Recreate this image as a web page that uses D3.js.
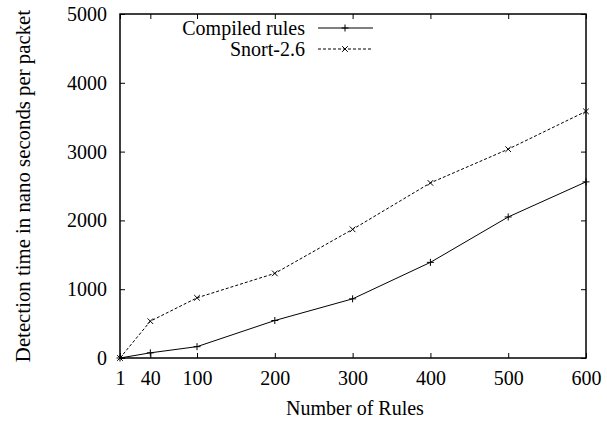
<!DOCTYPE html>
<html lang="en">
<head>
  <meta charset="UTF-8">
  <title>Detection time vs number of rules</title>
  <script src="https://d3js.org/d3.v7.min.js"></script>
  <style>
    body { margin: 0; background: #fff; }
    svg text { font-family: 'Liberation Serif', 'Times New Roman', serif; font-size: 20px; fill: #000; }
    .axis path { display: none; }
    .axis line { stroke: #000; stroke-width: 1; }
    .frame { fill: none; stroke: #000; stroke-width: 1.5; }
  </style>
</head>
<body>
  <div id="chart"></div>
  <script>
    // data
    const rules = [1, 40, 100, 200, 300, 400, 500, 600];
    const compiled = [0, 75, 165, 545, 860, 1390, 2050, 2560];
    const snort = [0, 535, 875, 1230, 1870, 2545, 3035, 3585];
    const xTicks = [1, 40, 100, 200, 300, 400, 500, 600];
    const yTicks = [0, 1000, 2000, 3000, 4000, 5000];

    const W = 607, H = 421;
    const margin = { top: 14, right: 21, bottom: 63, left: 120 };

    const svg = d3.select("#chart").append("svg")
      .attr("width", W).attr("height", H);

    const x = d3.scaleLinear().domain([1, 600]).range([margin.left, W - margin.right]);
    const y = d3.scaleLinear().domain([0, 5000]).range([H - margin.bottom, margin.top]);

    // ticks (gnuplot style: inward, mirrored)
    svg.append("g").attr("class", "axis")
      .attr("transform", `translate(0,${y(0)})`)
      .call(d3.axisBottom(x).tickValues(xTicks).tickSizeInner(-5).tickSizeOuter(0).tickPadding(13).tickFormat(d3.format("d")));
    svg.append("g").attr("class", "axis")
      .attr("transform", `translate(0,${y(5000)})`)
      .call(d3.axisTop(x).tickValues(xTicks).tickSizeInner(-5).tickSizeOuter(0).tickFormat(""));
    svg.append("g").attr("class", "axis")
      .attr("transform", `translate(${x(1)},0)`)
      .call(d3.axisLeft(y).tickValues(yTicks).tickSizeInner(-5).tickSizeOuter(0).tickPadding(13).tickFormat(d3.format("d")));
    svg.append("g").attr("class", "axis")
      .attr("transform", `translate(${x(600)},0)`)
      .call(d3.axisRight(y).tickValues(yTicks).tickSizeInner(-5).tickSizeOuter(0).tickFormat(""));

    svg.selectAll(".axis").attr("font-family", null).attr("font-size", null);

    svg.append("rect").attr("class", "frame")
      .attr("x", x(1)).attr("y", y(5000))
      .attr("width", x(600) - x(1)).attr("height", y(0) - y(5000));

    // axis titles
    svg.append("text")
      .attr("x", (x(1) + x(600)) / 2 + 2).attr("y", 415)
      .attr("text-anchor", "middle")
      .text("Number of Rules");
    svg.append("text")
      .attr("transform", `translate(30,${(y(0) + y(5000)) / 2}) rotate(-90)`)
      .attr("text-anchor", "middle")
      .style("font-size", "20.8px")
      .text("Detection time in nano seconds per packet");

    const line = d3.line().x((d, i) => x(rules[i])).y(d => y(d));

    const series = [
      { name: "Compiled rules", values: compiled, dash: null, marker: "plus" },
      { name: "Snort-2.6", values: snort, dash: "3,2", marker: "cross" }
    ];

    function drawMarker(g, type, cx, cy) {
      const s = 3.5;
      const p = type === "plus"
        ? `M${cx - s},${cy}H${cx + s}M${cx},${cy - s}V${cy + s}`
        : `M${cx - s * 0.8},${cy - s * 0.8}L${cx + s * 0.8},${cy + s * 0.8}M${cx - s * 0.8},${cy + s * 0.8}L${cx + s * 0.8},${cy - s * 0.8}`;
      g.append("path").attr("d", p).attr("stroke", "#000").attr("stroke-width", 1).attr("fill", "none");
    }

    series.forEach((s, k) => {
      svg.append("path")
        .datum(s.values)
        .attr("d", line)
        .attr("fill", "none")
        .attr("stroke", "#000")
        .attr("stroke-width", 1)
        .attr("stroke-dasharray", s.dash);
      const g = svg.append("g");
      s.values.forEach((v, i) => drawMarker(g, s.marker, x(rules[i]), y(v)));

      // legend entry
      const ly = 28 + k * 21;
      svg.append("text")
        .attr("x", 305).attr("y", ly).attr("dy", "0.33em")
        .attr("text-anchor", "end")
        .text(s.name);
      svg.append("line")
        .attr("x1", 318).attr("x2", 373).attr("y1", ly).attr("y2", ly)
        .attr("stroke", "#000").attr("stroke-width", 1)
        .attr("stroke-dasharray", s.dash);
      drawMarker(svg, s.marker, 345, ly);
    });
  </script>
</body>
</html>
